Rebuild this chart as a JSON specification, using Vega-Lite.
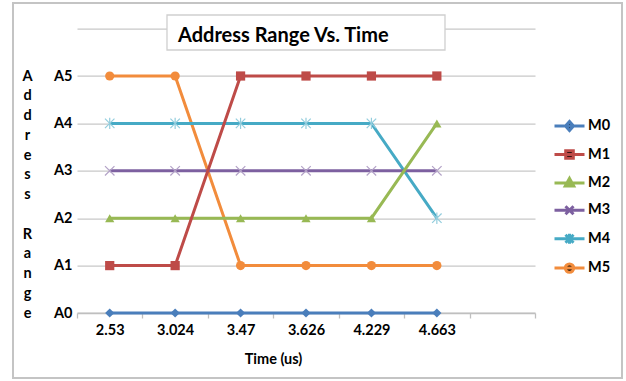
{
  "$schema": "https://vega.github.io/schema/vega-lite/v6.json",
  "autosize": "none",
  "width": 458,
  "height": 284.4,
  "padding": {"left": 77, "top": 28.6, "right": 91, "bottom": 68},
  "background": "white",
  "title": {
    "text": "Address Range Vs. Time",
    "anchor": "start",
    "frame": "group",
    "dx": 101,
    "offset": -60.2,
    "baseline": "alphabetic",
    "font": "Lato",
    "fontSize": 20,
    "fontWeight": "bold",
    "color": "#000000"
  },
  "datasets": {
    "series": [
      {"t": "2.53", "m": "M5", "a": 5}, {"t": "3.024", "m": "M5", "a": 5}, {"t": "3.47", "m": "M5", "a": 1}, {"t": "3.626", "m": "M5", "a": 1}, {"t": "4.229", "m": "M5", "a": 1}, {"t": "4.663", "m": "M5", "a": 1},
      {"t": "2.53", "m": "M4", "a": 4}, {"t": "3.024", "m": "M4", "a": 4}, {"t": "3.47", "m": "M4", "a": 4}, {"t": "3.626", "m": "M4", "a": 4}, {"t": "4.229", "m": "M4", "a": 4}, {"t": "4.663", "m": "M4", "a": 2},
      {"t": "2.53", "m": "M3", "a": 3}, {"t": "3.024", "m": "M3", "a": 3}, {"t": "3.47", "m": "M3", "a": 3}, {"t": "3.626", "m": "M3", "a": 3}, {"t": "4.229", "m": "M3", "a": 3}, {"t": "4.663", "m": "M3", "a": 3},
      {"t": "2.53", "m": "M2", "a": 2}, {"t": "3.024", "m": "M2", "a": 2}, {"t": "3.47", "m": "M2", "a": 2}, {"t": "3.626", "m": "M2", "a": 2}, {"t": "4.229", "m": "M2", "a": 2}, {"t": "4.663", "m": "M2", "a": 4},
      {"t": "2.53", "m": "M1", "a": 1}, {"t": "3.024", "m": "M1", "a": 1}, {"t": "3.47", "m": "M1", "a": 5}, {"t": "3.626", "m": "M1", "a": 5}, {"t": "4.229", "m": "M1", "a": 5}, {"t": "4.663", "m": "M1", "a": 5},
      {"t": "2.53", "m": "M0", "a": 0}, {"t": "3.024", "m": "M0", "a": 0}, {"t": "3.47", "m": "M0", "a": 0}, {"t": "3.626", "m": "M0", "a": 0}, {"t": "4.229", "m": "M0", "a": 0}, {"t": "4.663", "m": "M0", "a": 0}
    ]
  },
  "resolve": {"scale": {"shape": "independent", "stroke": "independent"}},
  "layer": [
    {
      "description": "outer chart frame",
      "data": {"values": [{}]},
      "mark": {"type": "rect", "fill": null, "stroke": "#c4c4c4", "strokeWidth": 2},
      "encoding": {
        "x": {"value": -64}, "x2": {"value": 545},
        "y": {"value": -25.6}, "y2": {"value": 349.4}
      }
    },
    {
      "description": "boxed panel behind the chart heading",
      "data": {"values": [{}]},
      "mark": {"type": "rect", "fill": "white", "stroke": "#cfcfcf", "strokeWidth": 1.3},
      "encoding": {
        "x": {"value": 90}, "x2": {"value": 368},
        "y": {"value": -13.6}, "y2": {"value": 21.4}
      }
    },
    {
      "data": {"name": "series"},
      "mark": {"type": "line", "strokeWidth": 3},
      "encoding": {
        "x": {
          "field": "t", "type": "ordinal",
          "scale": {"domain": ["2.53", "3.024", "3.47", "3.626", "4.229", "4.663", "-"], "paddingInner": 0, "paddingOuter": 0},
          "axis": {
            "title": "Time (us)",
            "titleX": 196, "titleY": 46, "titleAnchor": "middle", "titleBaseline": "middle",
            "titleFont": "Lato", "titleFontSize": 14.5, "titleFontWeight": "bold", "titleColor": "#000000",
            "labelExpr": "datum.value == '-' ? '' : datum.label",
            "labelFont": "Lato", "labelFontSize": 14.5, "labelFontWeight": "bold", "labelColor": "#000000",
            "labelAngle": 0, "labelPadding": 5,
            "tickBand": "extent", "tickSize": 5, "tickColor": "#bfbfbf", "tickWidth": 1.3,
            "domainColor": "#bfbfbf", "domainWidth": 1.3,
            "grid": false
          }
        },
        "y": {
          "field": "a", "type": "quantitative",
          "scale": {"domain": [0, 6], "nice": false},
          "axis": {
            "values": [0, 1, 2, 3, 4, 5, 6],
            "labelExpr": "datum.value <= 5 ? 'A' + datum.value : ''",
            "labelFont": "Lato", "labelFontSize": 14.5, "labelFontWeight": "bold", "labelColor": "#000000",
            "labelPadding": 5,
            "ticks": false, "domain": false,
            "grid": true, "gridColor": "#c8c8c8", "gridWidth": 1.3,
            "title": ["A", "d", "d", "r", "e", "s", "s", "\u200b", "R", "a", "n", "g", "e"],
            "titleAngle": 0, "titleX": -50, "titleY": 47.4,
            "titleAlign": "center", "titleBaseline": "middle", "titleLineHeight": 19.75,
            "titleFont": "Lato", "titleFontSize": 14.5, "titleFontWeight": "bold", "titleColor": "#000000"
          }
        },
        "color": {
          "field": "m", "type": "nominal",
          "scale": {"domain": ["M0", "M1", "M2", "M3", "M4", "M5"], "range": ["#4A7EBB", "#BE4B48", "#98B954", "#7D60A0", "#46AAC5", "#F28C3C"]},
          "legend": null
        }
      }
    },
    {
      "data": {"name": "series"},
      "transform": [{"filter": "datum.m != 'M3' && datum.m != 'M4'"}],
      "mark": {"type": "point", "filled": true, "opacity": 1, "size": 85},
      "encoding": {
        "x": {"field": "t", "type": "ordinal"},
        "y": {"field": "a", "type": "quantitative"},
        "color": {"field": "m", "type": "nominal", "legend": null},
        "shape": {
          "field": "m", "type": "nominal",
          "scale": {"domain": ["M0", "M1", "M2", "M5"], "range": ["diamond", "square", "triangle-up", "circle"]},
          "legend": null
        }
      }
    },
    {
      "data": {"name": "series"},
      "transform": [{"filter": "datum.m == 'M3' || datum.m == 'M4'"}],
      "mark": {"type": "point", "filled": false, "opacity": 1, "size": 90, "strokeWidth": 1.2},
      "encoding": {
        "x": {"field": "t", "type": "ordinal"},
        "y": {"field": "a", "type": "quantitative"},
        "stroke": {
          "field": "m", "type": "nominal",
          "scale": {"domain": ["M3", "M4"], "range": ["#B3A2C7", "#93CDDD"]},
          "legend": null
        },
        "shape": {
          "field": "m", "type": "nominal",
          "scale": {"domain": ["M3", "M4"], "range": ["M-1,-1L1,1M-1,1L1,-1", "M-1,-1L1,1M-1,1L1,-1M0,-1.2V1.2"]},
          "legend": null
        }
      }
    },
    {
      "description": "series key: swatches are line-plus-marker glyphs",
      "data": {"name": "series"},
      "mark": {"type": "point", "filled": true, "opacity": 0, "size": 10},
      "encoding": {
        "x": {"field": "t", "type": "ordinal"},
        "y": {"field": "a", "type": "quantitative"},
        "fill": {"field": "m", "type": "nominal", "scale": {"domain": ["M0", "M1", "M2", "M3", "M4", "M5"], "range": ["#4A7EBB", "#BE4B48", "#98B954", "#7D60A0", "#46AAC5", "#F28C3C"]}},
        "stroke": {"field": "m", "type": "nominal", "scale": {"domain": ["M0", "M1", "M2", "M3", "M4", "M5"], "range": ["#4A7EBB", "#BE4B48", "#98B954", "#7D60A0", "#46AAC5", "#F28C3C"]}},
        "shape": {
          "field": "m", "type": "nominal",
          "scale": {
            "domain": ["M0", "M1", "M2", "M3", "M4", "M5"],
            "range": [
              "M-1.5,0H1.5M0,-0.45L0.4,0L0,0.45L-0.4,0Z",
              "M-1.5,0H1.5M-0.38,-0.38H0.38V0.38H-0.38Z",
              "M-1.5,0H1.5M0,-0.45L0.42,0.3H-0.42Z",
              "M-1.5,0H1.5M-0.4,-0.4L0.4,0.4M-0.4,0.4L0.4,-0.4",
              "M-1.5,0H1.5M-0.4,-0.4L0.4,0.4M-0.4,0.4L0.4,-0.4M0,-0.5V0.5",
              "M-1.5,0H1.5M0.42,0A0.42,0.42,0,1,1,-0.42,0A0.42,0.42,0,1,1,0.42,0Z"
            ]
          }
        }
      }
    }
  ],
  "config": {
    "view": {"stroke": null},
    "font": "Lato",
    "legend": {
      "orient": "none",
      "legendX": 481,
      "legendY": 86,
      "title": null,
      "padding": 0,
      "symbolSize": 400,
      "symbolStrokeWidth": 3,
      "symbolOpacity": 1,
      "labelFont": "Lato",
      "labelFontSize": 14.5,
      "labelFontWeight": "bold",
      "labelColor": "#000000",
      "labelOffset": 7,
      "rowPadding": 6.4
    }
  }
}
